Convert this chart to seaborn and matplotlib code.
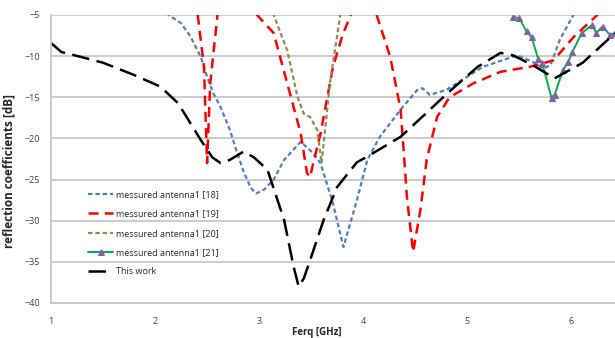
import matplotlib
matplotlib.use("Agg")
import matplotlib.pyplot as plt
import seaborn as sns

# This work (black long dash)
x_work = [1.0, 1.1, 1.29, 1.5, 1.8, 2.05, 2.22, 2.44, 2.55, 2.63, 2.72, 2.85, 2.95, 3.08, 3.24, 3.33, 3.38,
          3.43, 3.49, 3.62, 3.75, 3.94, 4.04, 4.36, 4.6, 4.81, 5.1, 5.32, 5.44, 5.63, 5.84, 6.11, 6.42]
y_work = [-8.4, -9.5, -10.1, -10.8, -12.3, -13.7, -15.7, -20.2, -22.3, -23.0, -22.6, -21.6, -22.3, -23.8, -29.9,
          -35.5, -38.0, -37.0, -34.8, -29.9, -25.9, -22.9, -22.2, -19.8, -17.0, -14.5, -11.3, -9.6, -9.9, -11.1,
          -12.7, -10.8, -7.2]

# measured antenna1 [18]
x_18 = [2.05, 2.13, 2.25, 2.34, 2.44, 2.5, 2.56, 2.63, 2.72, 2.78, 2.85, 2.92, 2.97, 3.05, 3.14, 3.24, 3.4,
        3.52, 3.59, 3.71, 3.81, 3.94, 4.04, 4.16, 4.36, 4.52, 4.57, 4.64, 4.8, 5.15, 5.48, 5.63, 5.73, 5.8,
        5.89, 6.02, 6.1]
y_18 = [-3.0, -5.0, -6.0, -7.6, -10.1, -12.5, -14.5, -16.2, -19.0, -21.4, -24.0, -26.0, -26.7, -26.2, -25.0,
        -22.6, -20.4, -21.8, -23.0, -27.9, -33.2, -27.5, -22.6, -19.8, -16.5, -14.1, -13.9, -14.7, -14.1, -11.3,
        -9.9, -10.7, -11.5, -11.1, -8.0, -5.0, -3.0]

# measured antenna1 [19]
x_19 = [2.35, 2.41, 2.47, 2.5, 2.53, 2.6, 2.66, 2.85, 2.98, 3.14, 3.27, 3.4, 3.46, 3.49, 3.52, 3.59, 3.71,
        3.8, 3.88, 3.95, 4.08, 4.14, 4.26, 4.36, 4.4, 4.42, 4.48, 4.55, 4.61, 4.71, 4.83, 5.06, 5.32, 5.6,
        5.83, 6.02, 6.25, 6.35]
y_19 = [-2.0, -5.0, -11.3, -23.0, -13.3, -5.0, -2.0, -1.0, -5.0, -7.2, -13.3, -19.4, -24.2, -24.7, -23.0,
        -19.4, -11.3, -7.5, -5.0, -3.0, -3.0, -5.4, -10.1, -16.5, -23.4, -27.1, -33.8, -28.7, -22.6, -17.4,
        -15.0, -13.3, -11.9, -11.3, -10.5, -7.7, -5.0, -3.0]

# measured antenna1 [20]
x_20 = [3.05, 3.14, 3.27, 3.37, 3.43, 3.49, 3.56, 3.6, 3.63, 3.68, 3.78, 3.85]
y_20 = [-2.0, -5.0, -9.3, -15.0, -17.0, -17.4, -19.0, -23.0, -19.4, -13.3, -5.0, -2.0]

# measured antenna1 [21]
x_21 = [5.44, 5.5, 5.57, 5.62, 5.68, 5.72, 5.81, 5.84, 5.92, 5.97, 6.01, 6.1, 6.2, 6.24, 6.3, 6.37, 6.42]
y_21 = [-5.2, -5.4, -7.0, -7.7, -10.3, -10.8, -15.1, -14.7, -11.7, -10.7, -9.5, -7.2, -6.2, -7.2, -6.4,
        -7.4, -7.2]

x_ticks = [1, 2, 3, 4, 5, 6]
y_ticks = [-5, -10, -15, -20, -25, -30, -35, -40]

sns.set_style("white")
plt.rcParams['font.family'] = ['Open Sans', 'DejaVu Sans']

fig = plt.figure(figsize=(6.15, 3.38), dpi=100)
ax = fig.add_axes([51 / 615, 35 / 338, 1 - 51 / 615, 288 / 338])

sns.lineplot(x=x_18, y=y_18, ax=ax, color="#4f81bd", linewidth=1.6,
             linestyle=(0, (2, 1.3)), label="messured antenna1 [18]")
sns.lineplot(x=x_19, y=y_19, ax=ax, color="#ff0000", linewidth=1.8,
             linestyle=(0, (4, 2.5)), label="messured antenna1 [19]")
sns.lineplot(x=x_20, y=y_20, ax=ax, color="#948a54", linewidth=1.6,
             linestyle=(0, (2, 1.3)), label="messured antenna1 [20]")
sns.lineplot(x=x_21, y=y_21, ax=ax, color="#00b050", linewidth=1.4,
             marker="^", markersize=5, markerfacecolor="#8064a2", markeredgecolor="#8064a2",
             label="messured antenna1 [21]")
sns.lineplot(x=x_work, y=y_work, ax=ax, color="black", linewidth=1.8,
             linestyle=(0, (7, 3)), label="This work")

ax.set_xlim(1, 6.42)
ax.set_ylim(-40, -5)
ax.set_xticks(x_ticks)
ax.set_yticks(y_ticks)
ax.grid(axis="y", color="#c8c8c8", linewidth=1.3)
ax.grid(axis="x", visible=False)
for s in ["top", "right"]:
    ax.spines[s].set_visible(False)
for s in ["left", "bottom"]:
    ax.spines[s].set_color("#c8c8c8")
    ax.spines[s].set_linewidth(1.3)
ax.tick_params(axis="y", labelsize=6.5, colors="#404040", length=3, pad=5, color="#c8c8c8")
ax.tick_params(axis="x", labelsize=6.5, colors="#404040", length=0, pad=10)

ax.set_xlabel("Ferq [GHz]", fontsize=7, fontweight="bold")
ax.set_ylabel("reflection coefficients [dB]", fontsize=8.5, fontweight="bold")
ax.xaxis.set_label_coords((317 - 51) / 564, -0.085)
ax.yaxis.set_label_coords(-0.063, 0.46)

ax.legend(loc="upper left", bbox_to_anchor=(0.06, 0.405), frameon=False, fontsize=6.5,
          handlelength=2.7, handletextpad=0.35, labelspacing=1.15, borderaxespad=0)

fig.savefig("out.png", dpi=100)
